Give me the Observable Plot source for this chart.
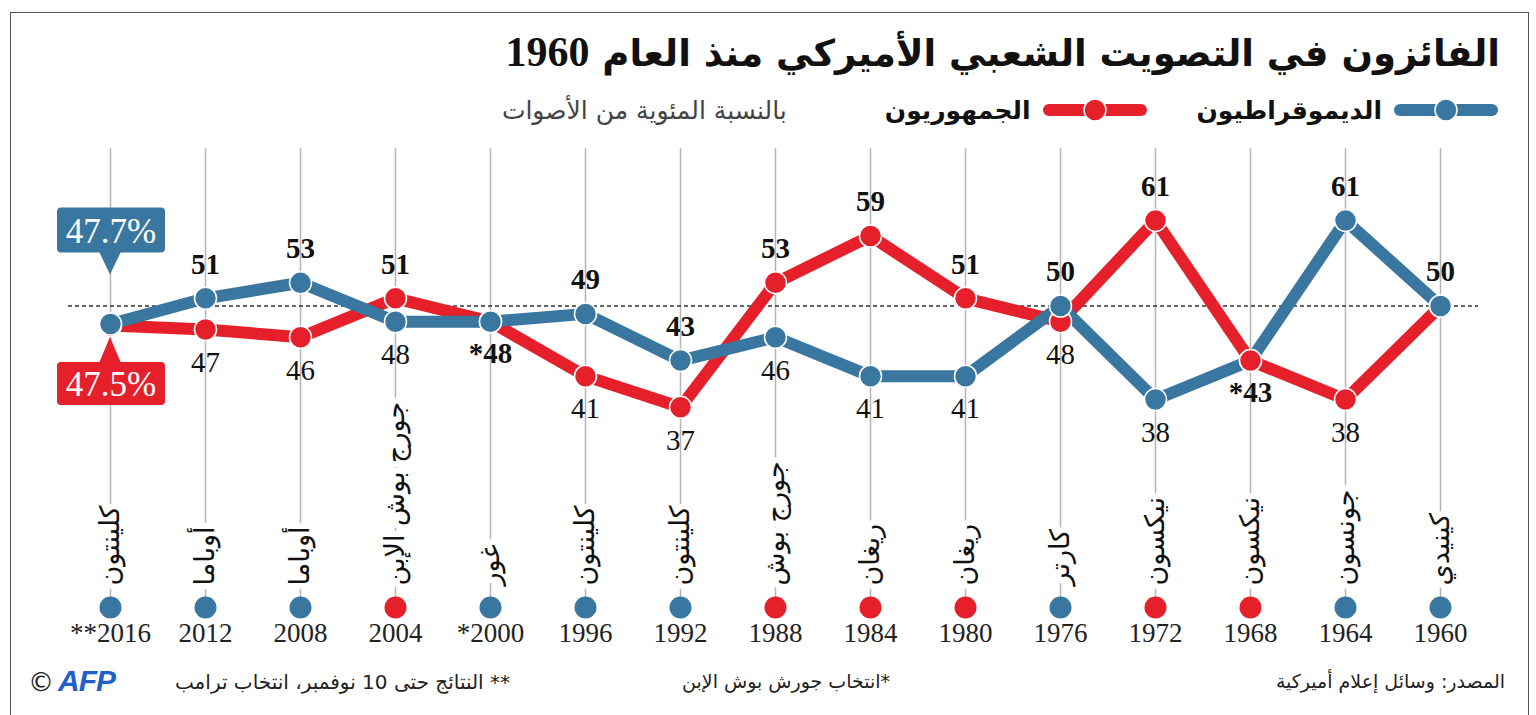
<!DOCTYPE html>
<html>
<head>
<meta charset="utf-8">
<script src="https://cdn.jsdelivr.net/npm/d3@7"></script>
<script src="https://cdn.jsdelivr.net/npm/@observablehq/plot@0.6"></script>
<style>
  html, body { margin: 0; padding: 0; background: #fff; }
  body { width: 1536px; height: 715px; overflow: hidden; position: relative; font-family: "DejaVu Sans", sans-serif; color: #111; }
  #frame { position: absolute; left: 10px; top: 12px; width: 1519px; height: 720px; border: 1.5px solid #555; border-bottom: none; box-sizing: border-box; }
  #title { position: absolute; right: 36px; top: 28px; font-size: 37px; font-weight: bold; direction: rtl; white-space: nowrap; color: #111; }
  #title .num { font-family: "Liberation Serif", serif; font-size: 42px; }
  #legend { position: absolute; right: 36px; top: 92px; height: 36px; display: flex; flex-direction: row-reverse; align-items: center; white-space: nowrap; }
  .lg-item { display: flex; flex-direction: row-reverse; align-items: center; }
  .lg-text { font-size: 25px; font-weight: bold; direction: rtl; color: #111; }
  .lg-sub { font-size: 25px; direction: rtl; color: #444; margin-right: 98px; }
  #chart { position: absolute; left: 0; top: 130px; }
  .foot { position: absolute; top: 670px; font-size: 19px; direction: rtl; white-space: nowrap; color: #222; }
  #afp { position: absolute; left: 28px; top: 664px; white-space: nowrap; }
  #afp .c { font-family: "DejaVu Sans", sans-serif; font-size: 26px; color: #222; }
  #afp .logo { font-family: "Liberation Sans", sans-serif; font-weight: bold; font-style: italic; font-size: 30px; color: #2060c8; letter-spacing: -1px; margin-left: 4px; }
</style>
</head>
<body>
<div id="frame"></div>
<div id="title">الفائزون في التصويت الشعبي الأميركي منذ العام <span class="num">1960</span></div>
<div id="legend"></div>
<div id="chart"></div>
<div class="foot" style="right:31px">المصدر: وسائل إعلام أميركية</div>
<div class="foot" style="right:646px">*انتخاب جورش بوش الإبن</div>
<div class="foot" style="right:1026px; font-size:20px">** النتائج حتى 10 نوفمبر، انتخاب ترامب</div>
<div id="afp"><span class="c">©</span><span class="logo">AFP</span></div>
<script>
// ---------- data ----------
const years      = [2016, 2012, 2008, 2004, 2000, 1996, 1992, 1988, 1984, 1980, 1976, 1972, 1968, 1964, 1960];
const yearLabels = ["**2016", "2012", "2008", "2004", "*2000", "1996", "1992", "1988", "1984", "1980", "1976", "1972", "1968", "1964", "1960"];
const demShare   = [47.7, 51, 53, 48, 48, 49, 43, 46, 41, 41, 50, 38, 43, 61, 50];
const repShare   = [47.5, 47, 46, 51, 48, 41, 37, 53, 59, 51, 48, 61, 43, 38, 50];
const winnerName = ["كلينتون", "أوباما", "أوباما", "جورج بوش الإبن", "غور", "كلينتون", "كلينتون", "جورج بوش", "ريغان", "ريغان", "كارتر", "نيكسون", "نيكسون", "جونسون", "كينيدي"];
const winnerParty = ["D", "D", "D", "R", "D", "D", "D", "R", "R", "R", "D", "R", "R", "D", "D"];
// labels as printed on the chart
const winnerLabels = ["", "51", "53", "51", "", "49", "43", "53", "59", "51", "50", "61", "", "61", "50"];
const loserLabels  = ["", "47", "46", "48", "", "41", "37", "46", "41", "41", "48", "38", "", "38", ""];
const tieLabels    = ["", "", "", "", "*48", "", "", "", "", "", "", "", "*43", "", ""];
const calloutLabels = ["47.7%", "47.5%"];
const legendLabels = ["الديموقراطيون", "الجمهوريون"];
const legendSub = "بالنسبة المئوية من الأصوات";

const BLUE = "#3a77a0", RED = "#e5202a";
const partyColor = p => p === "D" ? BLUE : RED;

const rows = years.map((year, i) => {
  const win = winnerParty[i];
  const wVal = win === "D" ? demShare[i] : repShare[i];
  const lVal = win === "D" ? repShare[i] : demShare[i];
  return {
    year, yearLabel: yearLabels[i], dem: demShare[i], rep: repShare[i],
    name: winnerName[i], party: win, wColor: partyColor(win), lColor: partyColor(win === "D" ? "R" : "D"),
    wVal, lVal, wLabel: winnerLabels[i], lLabel: loserLabels[i], tLabel: tieLabels[i]
  };
});
const callouts = [
  {year: years[0], value: demShare[0], label: calloutLabels[0], color: BLUE, side: "above"},
  {year: years[0], value: repShare[0], label: calloutLabels[1], color: RED, side: "below"}
];

// ---------- legend ----------
const legend = document.getElementById("legend");
[["D", legendLabels[0]], ["R", legendLabels[1]]].forEach(([p, t], k) => {
  const item = document.createElement("div");
  item.className = "lg-item";
  if (k > 0) item.style.marginRight = "48px";
  const c = partyColor(p);
  item.innerHTML = `<svg width="108" height="30" style="margin-left:10px"><line x1="8" y1="15" x2="100" y2="15" stroke="${c}" stroke-width="12" stroke-linecap="round"/><circle cx="54" cy="15" r="11" fill="${c}" stroke="white" stroke-width="1.5"/></svg><span class="lg-text">${t}</span>`;
  legend.appendChild(item);
});
const sub = document.createElement("span");
sub.className = "lg-sub";
sub.textContent = legendSub;
legend.appendChild(sub);

// ---------- callout renderer ----------
function renderCallouts(index, scales, values) {
  const g = d3.create("svg:g");
  for (const i of index) {
    const d = callouts[i];
    const cx = values.x[i] + 1, cy = values.y[i];
    const w = 108;
    let top, bottom, tipY, baseY;
    if (d.side === "above") { top = cy - 116; bottom = cy - 71; tipY = cy - 49; baseY = bottom - 1; }
    else { top = cy + 37; bottom = cy + 80; tipY = cy + 12; baseY = top + 1; }
    g.append("rect").attr("x", cx - w / 2).attr("y", top).attr("width", w).attr("height", bottom - top)
      .attr("rx", 4).attr("fill", d.color);
    g.append("path").attr("d", `M${cx - 1 - 11},${baseY}L${cx - 1},${tipY}L${cx - 1 + 11},${baseY}Z`).attr("fill", d.color);
    g.append("text").attr("x", cx).attr("y", (top + bottom) / 2).attr("dy", "0.36em")
      .attr("text-anchor", "middle").attr("fill", "white")
      .attr("font-family", "Liberation Serif, serif").attr("font-size", 35)
      .text(d.label);
  }
  return g.node();
}

// ---------- chart ----------
const serif = "Liberation Serif, serif";
const chart = Plot.plot({
  width: 1536,
  height: 530,
  marginTop: 18,
  marginBottom: 53,
  marginLeft: 68,
  marginRight: 58,
  x: {type: "point", domain: years, range: [105, 1444], padding: 0, axis: null},
  y: {domain: [38, 61], range: [269, 90], axis: null},
  color: {type: "identity"},
  style: {background: "transparent", overflow: "visible"},
  marks: [
    Plot.ruleX(years, {x: d => d, stroke: "#b5b5b5", strokeWidth: 1.5}),
    Plot.ruleY([50], {stroke: "#333", strokeWidth: 1.5, strokeDasharray: "4,3"}),
    // winner names, rotated
    Plot.text(rows, {x: "year", text: "name", frameAnchor: "bottom", dy: -22, rotate: -90,
      textAnchor: "start", lineAnchor: "middle", fontSize: 27, fontFamily: "DejaVu Sans",
      fill: "#111", stroke: "white", strokeWidth: 12}),
    // winner party dots at the bottom
    Plot.dot(rows, {x: "year", frameAnchor: "bottom", r: 11, fill: "wColor", stroke: null}),
    // years
    Plot.text(rows, {x: "year", text: "yearLabel", frameAnchor: "bottom", dy: 34,
      fontSize: 27, fontFamily: serif, fill: "#222"}),
    // lines
    Plot.line(rows, {x: "year", y: "rep", stroke: RED, strokeWidth: 12, strokeLinejoin: "round"}),
    Plot.line(rows, {x: "year", y: "dem", stroke: BLUE, strokeWidth: 12, strokeLinejoin: "round"}),
    // loser dots then winner dots
    Plot.dot(rows, {x: "year", y: "lVal", r: 11, fill: "lColor", stroke: "white", strokeWidth: 1.5}),
    Plot.dot(rows, {x: "year", y: "wVal", r: 11, fill: "wColor", stroke: "white", strokeWidth: 1.5}),
    // value labels
    Plot.text(rows, {x: "year", y: "wVal", text: "wLabel", dy: -34, fontSize: 29, fontWeight: "bold",
      fontFamily: serif, fill: "#111"}),
    Plot.text(rows, {x: "year", y: "lVal", text: "lLabel", dy: 33, fontSize: 29,
      fontFamily: serif, fill: "#111"}),
    Plot.text(rows, {x: "year", y: "wVal", text: "tLabel", dy: 32, fontSize: 29, fontWeight: "bold",
      fontFamily: serif, fill: "#111"}),
    // 2016 callouts
    Plot.text(callouts, {x: "year", y: "value", text: "label", render: renderCallouts})
  ]
});
document.getElementById("chart").appendChild(chart);
</script>
</body>
</html>
